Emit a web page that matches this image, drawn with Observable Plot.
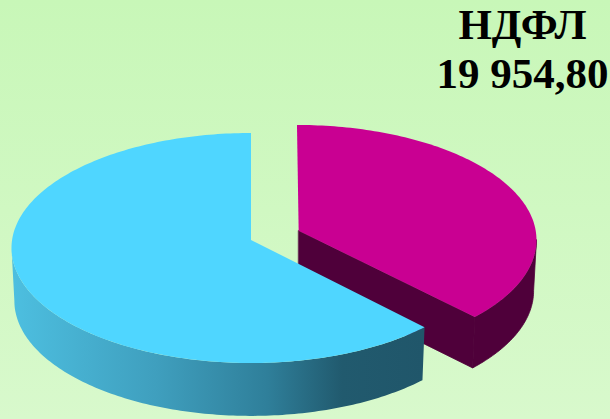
<!DOCTYPE html>
<html><head><meta charset="utf-8">
<script src="https://cdn.jsdelivr.net/npm/d3@7"></script>
<script src="https://cdn.jsdelivr.net/npm/@observablehq/plot@0.6"></script>
<style>
html,body{margin:0;padding:0;width:610px;height:419px;overflow:hidden;background:linear-gradient(#c8f7b8,#d8f9cc);}
svg{display:block;}
</style></head><body>
<script>
const titleLines = ["НДФЛ", "19 954,80"];
const sliceNames = ["magenta", "blue"];
const sliceShares = [37.1, 62.9];
const topColors = ["#c90092", "#4fd6ff"];
const wallColor = "#4f003a";
const wallStops = [[0, "#4dbfe0"], [0.35, "#3f9fbe"], [0.62, "#2f7f9a"], [0.8, "#215a6e"], [1, "#20566a"]];

// pie model: radius 100, wall depth in model units, magenta slice pulled out
const R = 100, depth = 46, magentaDepth = 44.3, apexLift = 7, shift = {x: 19.2, y: 7};
const blueStart = sliceShares[0] / 100 * 360;
const magentaEnd = blueStart - 1.5; // the pulled-out slice looks wider in the perspective
const rad = d => d * Math.PI / 180;
const arc = (from, to, dx = 0, dy = 0) => d3.range(from, to + 0.001, (to - from) / Math.ceil(Math.abs(to - from)))
  .map(t => ({x: dx + R * Math.sin(rad(t)), y: dy + R * Math.cos(rad(t))}));
const wall = (from, to, dx = 0, dy = 0, h = depth) => arc(from, to, dx, dy).map(p => ({
  x1: p.x, y1: p.y, x2: dx + (p.x - dx) * 0.988, y2: p.y - h
}));
const fan = (from, to, dx = 0, dy = 0, ax = 0) => arc(from, to, dx, dy).map(p => ({
  x1: p.x, y1: p.y, x2: dx + ax, y2: dy + apexLift
}));

const magentaApex = {x: shift.x + 0.7, y: shift.y + apexLift + 1};
const magentaTop = fan(0, magentaEnd, shift.x, shift.y, 0.7).map(d => ({...d, y2: magentaApex.y}));
const magentaOuter = wall(90, magentaEnd, shift.x, shift.y, magentaDepth);
const tipPoint = {x: shift.x + R * Math.sin(rad(magentaEnd)), y: shift.y + R * Math.cos(rad(magentaEnd))};
const magentaCut = [
  {x1: magentaApex.x, y1: magentaApex.y, x2: magentaApex.x, y2: magentaApex.y - magentaDepth},
  {x1: tipPoint.x, y1: tipPoint.y, x2: shift.x + R * Math.sin(rad(magentaEnd)) * 0.988, y2: tipPoint.y - magentaDepth}
];
const blueTop = fan(blueStart, 360);
const blueOuter = wall(blueStart, 270);

const gradient = () => {
  const defs = d3.create("svg:defs");
  const g = defs.append("linearGradient").attr("id", "blueWall").attr("x1", 0).attr("x2", 1).attr("y1", 0).attr("y2", 0);
  wallStops.forEach(([o, c]) => g.append("stop").attr("offset", o).attr("stop-color", c));
  return defs.node();
};

const face = (data, fill, extra = {}) => Plot.area(data, {x1: "x1", y1: "y1", x2: "x2", y2: "y2", fill, curve: "linear", ...extra});
const sealed = {stroke: wallColor, strokeWidth: 0.8};

const chart = Plot.plot({
  width: 610, height: 419,
  margin: 0,
  style: {background: "transparent"},
  x: {domain: [-104.8, 149.9], range: [0, 610], axis: null},
  y: {domain: [-148.7, 215.65], range: [419, 0], axis: null},
  marks: [
    gradient,
    face(magentaOuter, wallColor, sealed),
    face(magentaCut, wallColor, sealed),
    face(magentaTop, topColors[0]),
    face(blueOuter, "url(#blueWall)"),
    face(blueTop, topColors[1]),
    Plot.text([titleLines.join("\n")], {
      frameAnchor: "top-right", dx: -88, dy: 4,
      textAnchor: "middle", lineAnchor: "top", lineHeight: 1.14,
      fontFamily: "Liberation Serif", fontWeight: "bold", fontSize: 43, fill: "#000"
    })
  ]
});
document.body.append(chart);
</script>
</body></html>
